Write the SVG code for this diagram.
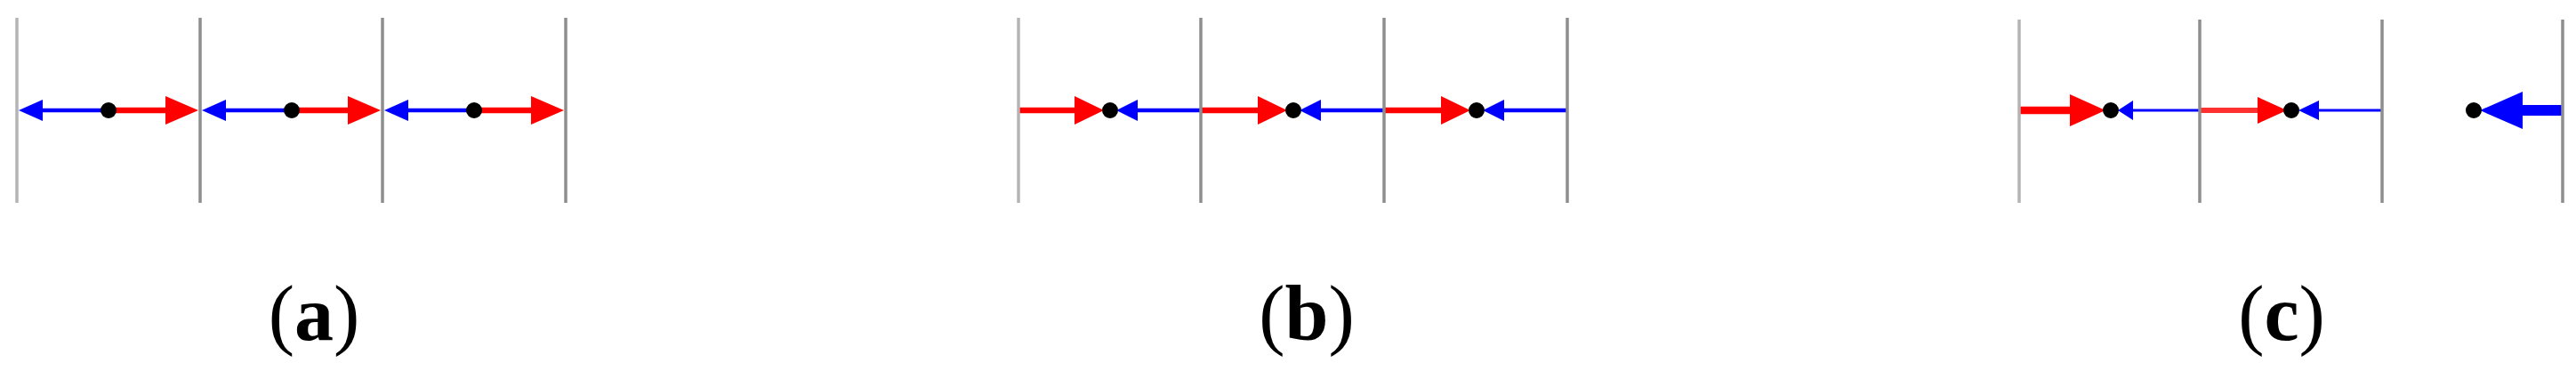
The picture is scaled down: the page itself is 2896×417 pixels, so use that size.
<svg xmlns="http://www.w3.org/2000/svg" width="2896" height="417" viewBox="0 0 2896 417">
<style>
.g{stroke:#8e8e8e;stroke-width:3.5}
.gl{stroke:#b4b4b4;stroke-width:3.5}
.r{fill:#ff0000}.b{fill:#0000ff}
.rs{stroke:#ff0000}.bs{stroke:#0000ff}
.d{fill:#000}
.t{font-family:"Liberation Serif",serif;font-size:88px;text-anchor:middle}
</style>
<g id="panel-a">
<line class="gl" x1="19" y1="20" x2="19" y2="228"/>
<line class="g" x1="225" y1="20" x2="225" y2="228"/>
<line class="g" x1="430" y1="20" x2="430" y2="228"/>
<line class="g" x1="636" y1="20" x2="636" y2="228"/>
</g>
<g id="connectors">
<g id="a-arrows">
<line class="bs" stroke-width="4.5" x1="40" y1="124" x2="122" y2="124"/>
<polygon class="b" points="21,124 48,112 48,136"/>
<line class="rs" stroke-width="6.5" x1="122" y1="124" x2="190" y2="124"/>
<polygon class="r" points="223,124 186,108 186,140"/>
<line class="bs" stroke-width="4.5" x1="246" y1="124" x2="328" y2="124"/>
<polygon class="b" points="227,124 254,112 254,136"/>
<line class="rs" stroke-width="6.5" x1="328" y1="124" x2="395" y2="124"/>
<polygon class="r" points="428,124 391,108 391,140"/>
<line class="bs" stroke-width="4.5" x1="451" y1="124" x2="533" y2="124"/>
<polygon class="b" points="432,124 459,112 459,136"/>
<line class="rs" stroke-width="6.5" x1="533" y1="124" x2="601" y2="124"/>
<polygon class="r" points="634,124 597,108 597,140"/>
</g>
<g id="b-arrows">
<line class="rs" stroke-width="6.5" x1="1145" y1="124" x2="1212" y2="124"/>
<polygon class="r" points="1241,124 1208,108 1208,140"/>
<line class="bs" stroke-width="4.5" x1="1275" y1="124" x2="1350" y2="124"/>
<polygon class="b" points="1255,124 1279,112 1279,136"/>
<line class="rs" stroke-width="6.5" x1="1350" y1="124" x2="1418" y2="124"/>
<polygon class="r" points="1447,124 1414,108 1414,140"/>
<line class="bs" stroke-width="4.5" x1="1481" y1="124" x2="1556" y2="124"/>
<polygon class="b" points="1461,124 1485,112 1485,136"/>
<line class="rs" stroke-width="6.5" x1="1556" y1="124" x2="1624" y2="124"/>
<polygon class="r" points="1653,124 1620,108 1620,140"/>
<line class="bs" stroke-width="4.5" x1="1687" y1="124" x2="1762" y2="124"/>
<polygon class="b" points="1667,124 1691,112 1691,136"/>
</g>
<g id="c-arrows">
<line class="rs" stroke-width="8.5" x1="2270" y1="124" x2="2330" y2="124"/>
<polygon class="r" points="2367,124 2327,106 2327,142"/>
<line class="bs" stroke-width="3" x1="2395" y1="124" x2="2473" y2="124"/>
<polygon class="b" points="2381,124 2398,113 2398,135"/>
<line stroke="#ff3030" stroke-width="6" x1="2473" y1="124" x2="2542" y2="124"/>
<polygon class="r" points="2571,124 2538,109 2538,139"/>
<line class="bs" stroke-width="3" x1="2604" y1="124" x2="2677" y2="124"/>
<polygon class="b" points="2584,124 2607,113 2607,135"/>
<line class="bs" stroke-width="12" x1="2832" y1="124" x2="2881" y2="124"/>
<polygon class="b" points="2788,124 2836,103 2836,145"/>
</g>
</g>
<g id="dots">
<circle class="d" cx="122" cy="124" r="9"/>
<circle class="d" cx="328" cy="124" r="9"/>
<circle class="d" cx="533" cy="124" r="9"/>
<circle class="d" cx="1248" cy="124" r="9"/>
<circle class="d" cx="1454" cy="124" r="9"/>
<circle class="d" cx="1660" cy="124" r="9"/>
<circle class="d" cx="2373" cy="124" r="9"/>
<circle class="d" cx="2576" cy="124" r="9"/>
<circle class="d" cx="2781" cy="124" r="9"/>
</g>
<g id="panel-b">
<line class="gl" x1="1145" y1="20" x2="1145" y2="228"/>
<line class="g" x1="1350" y1="20" x2="1350" y2="228"/>
<line class="g" x1="1556" y1="20" x2="1556" y2="228"/>
<line class="g" x1="1762" y1="20" x2="1762" y2="228"/>
</g>
<g id="panel-c">
<line class="gl" x1="2270" y1="22" x2="2270" y2="228"/>
<line class="g" x1="2473" y1="22" x2="2473" y2="228" stroke-width="2.5"/>
<line class="g" x1="2678" y1="22" x2="2678" y2="228" stroke-width="4.5"/>
<line class="g" x1="2881" y1="22" x2="2881" y2="228"/>
</g>
<g id="labels">
<text class="t" x="353" y="382">(<tspan font-weight="bold">a</tspan>)</text>
<text class="t" x="1469" y="382">(<tspan font-weight="bold">b</tspan>)</text>
<text class="t" x="2565" y="382">(<tspan font-weight="bold">c</tspan>)</text>
</g>
</svg>
